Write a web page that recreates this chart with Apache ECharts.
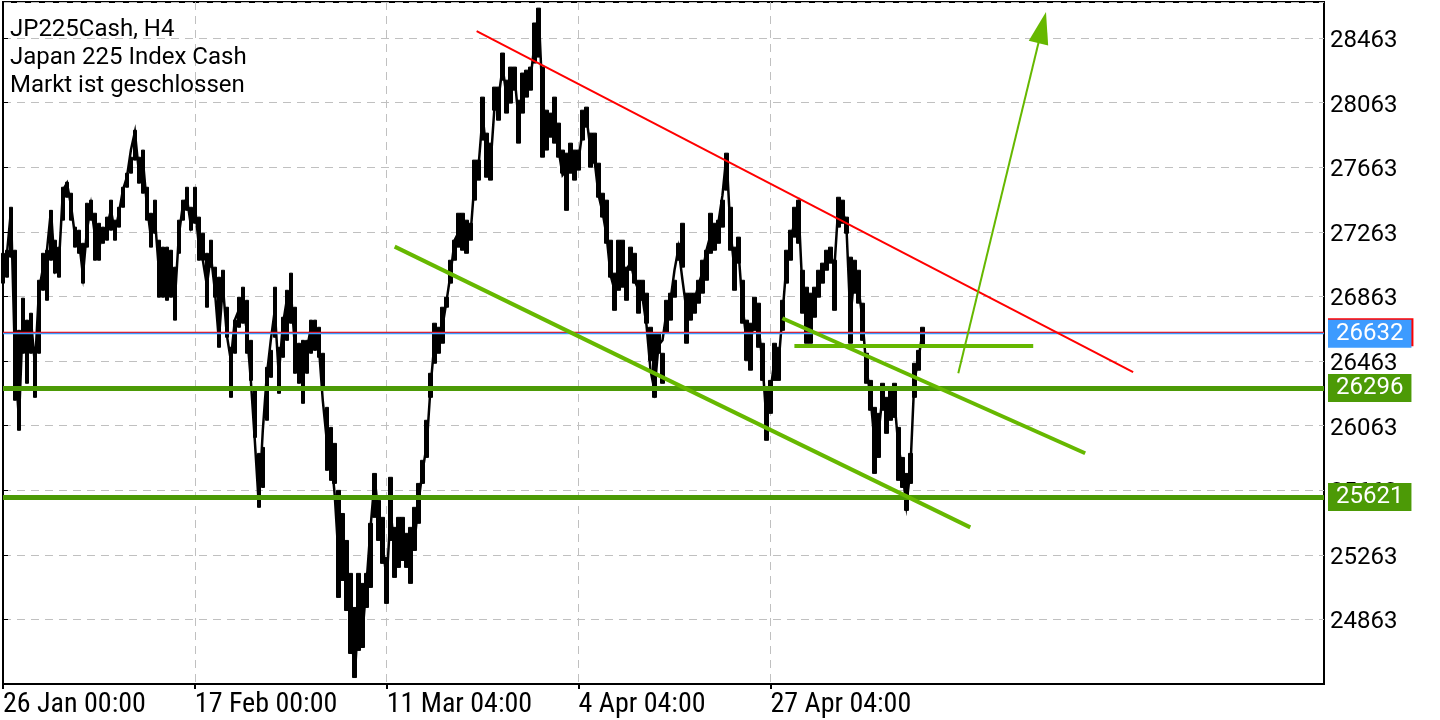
<!DOCTYPE html>
<html><head><meta charset="utf-8">
<script src="https://cdn.jsdelivr.net/npm/echarts@6/dist/echarts.min.js"></script>
<style>html,body{margin:0;padding:0;background:#fff}#c{width:1440px;height:720px}</style>
</head><body><div id="c"></div>
<script>
// ---- data ----
const titleLines = ['JP225Cash, H4', 'Japan 225 Index Cash', 'Markt ist geschlossen'];
const barStep = 2; // H4 bars between consecutive samples
const closes = [
  27026, 27131, 27397, 26468, 26096, 26747, 26468, 26716, 26437, 26902,
  27038, 27149, 27397, 27026, 27075, 27521, 27565, 27428, 27242, 27211,
  26995, 27273, 27428, 27242, 27162, 27255, 27292, 27397, 27261, 27379,
  27521, 27602, 27769, 27881, 27633, 27707, 27428, 27230, 27348, 27026,
  26933, 27057, 26995, 26840, 27242, 27428, 27472, 27304, 27428, 27180,
  27087, 26933, 27118, 26902, 26592, 26933, 26623, 26468, 26716, 26778,
  26809, 26654, 26344, 25972, 25570, 26034, 26375, 26592, 26778, 26375,
  26685, 26840, 26902, 26561, 26406, 26375, 26530, 26666, 26623, 26561,
  26220, 25972, 25910, 25631, 25229, 25353, 25136, 24857, 24510, 24919,
  24795, 25105, 25446, 25737, 25495, 25322, 25105, 25538, 25260, 25353,
  25384, 25229, 25291, 25353, 25600, 25786, 25941, 26313, 26592, 26623,
  26685, 26840, 27007, 27211, 27261, 27273, 27292, 27255, 27583, 27676,
  27986, 27738, 27689, 28048, 28097, 28283, 28097, 28128, 28221, 27955,
  28122, 28184, 28215, 28432, 28630, 28079, 27893, 27955, 27893, 27769,
  27614, 27645, 27707, 27719, 27707, 27893, 27967, 27769, 27707, 27490,
  27385, 27242, 26995, 26902, 27038, 26976, 27026, 27075, 26964, 26902,
  26852, 26685, 26406, 26282, 26561, 26592, 26765, 26840, 27026, 27162,
  26964, 26778, 26821, 26840, 26933, 27013, 27149, 27242, 27273, 27323,
  27490, 27738, 27273, 27026, 27149, 26809, 26592, 26561, 26747, 26685,
  26455, 26096, 26270, 26468, 26437, 26747, 27057, 27180, 27335, 27428,
  26902, 26778, 26778, 26840, 26945, 27007, 27087, 27131, 27038, 27428,
  27397, 27304, 26728, 26995, 26920, 26728, 26418, 26251, 25972, 26003,
  26239, 26127, 26201, 26220, 25941, 25786, 25569, 25786, 26344, 26468,
  26632
];
const highs = [
  27130, 27149, 27415, 27149, 26653, 26852, 26716, 26759, 26548, 26963,
  27130, 27149, 27396, 27211, 27168, 27539, 27570, 27502, 27292, 27273,
  27192, 27440, 27459, 27378, 27316, 27292, 27354, 27459, 27335, 27415,
  27539, 27626, 27725, 27892, 27725, 27769, 27539, 27378, 27459, 27211,
  27168, 27168, 27149, 27044, 27335, 27459, 27539, 27415, 27539, 27354,
  27254, 27130, 27211, 27044, 26982, 27025, 26796, 26548, 26716, 26858,
  26920, 26839, 26591, 26282, 25891, 25928, 26424, 26529, 26920, 26548,
  26734, 26901, 27007, 26796, 26573, 26591, 26591, 26716, 26716, 26672,
  26511, 26176, 26052, 25953, 25662, 25519, 25352, 25148, 24937, 25148,
  25086, 25148, 25458, 25767, 25600, 25495, 25247, 25743, 25433, 25495,
  25495, 25396, 25433, 25557, 25705, 25848, 26096, 26387, 26697, 26672,
  26796, 26858, 27087, 27211, 27378, 27378, 27335, 27316, 27707, 27707,
  28097, 27874, 27812, 28159, 28159, 28370, 28202, 28283, 28283, 28078,
  28246, 28264, 28283, 28556, 28648, 28283, 28016, 27998, 28097, 27936,
  27769, 27750, 27812, 27769, 27769, 28016, 28035, 27874, 27874, 27688,
  27502, 27459, 27211, 27007, 27211, 27211, 27044, 27168, 27130, 26963,
  26963, 26883, 26672, 26635, 26635, 26511, 26839, 26883, 26963, 27192,
  27316, 26883, 26883, 26883, 26963, 27087, 27149, 27378, 27316, 27335,
  27459, 27750, 27415, 27168, 27230, 26963, 26716, 26697, 26858, 26821,
  26573, 26300, 26343, 26573, 26548, 26839, 27149, 27273, 27415, 27459,
  27025, 26920, 26883, 26920, 27025, 27069, 27149, 27168, 27087, 27477,
  27459, 27354, 27106, 27087, 27025, 26821, 26511, 26343, 26176, 26139,
  26325, 26238, 26300, 26325, 26052, 25866, 25767, 25891, 26449, 26529,
  26672
];
const lows = [
  26945, 26982, 27106, 26220, 26034, 26511, 26325, 26511, 26238, 26511,
  26901, 26839, 27087, 27007, 26982, 27335, 27477, 27335, 27168, 27130,
  26945, 27168, 27335, 27087, 27087, 27192, 27211, 27273, 27211, 27292,
  27415, 27539, 27626, 27707, 27564, 27502, 27335, 27168, 27254, 26858,
  26858, 26839, 26858, 26716, 27130, 27335, 27396, 27273, 27316, 27087,
  27087, 26796, 27044, 26858, 26548, 26839, 26610, 26238, 26511, 26672,
  26697, 26511, 26343, 25990, 25557, 25680, 26096, 26362, 26610, 26263,
  26486, 26591, 26697, 26387, 26325, 26201, 26387, 26511, 26529, 26486,
  26282, 25786, 25724, 25705, 24999, 25104, 24918, 24652, 24503, 24671,
  24689, 24937, 25061, 25495, 25352, 25210, 24962, 25352, 25123, 25185,
  25228, 25185, 25086, 25290, 25458, 25705, 25866, 26238, 26449, 26511,
  26573, 26796, 26945, 27087, 27168, 27149, 27130, 27211, 27459, 27583,
  27831, 27601, 27583, 28016, 27954, 28202, 27998, 28060, 28140, 27812,
  27998, 28097, 28140, 28308, 28345, 27725, 27769, 27849, 27812, 27725,
  27626, 27396, 27626, 27583, 27645, 27831, 27911, 27663, 27688, 27477,
  27354, 27192, 26982, 26777, 26901, 26920, 26839, 27025, 26945, 26759,
  26839, 26697, 26467, 26238, 26511, 26325, 26635, 26716, 26858, 27087,
  27044, 26573, 26716, 26759, 26821, 26883, 26963, 27130, 27149, 27192,
  27292, 27521, 27149, 26901, 27069, 26697, 26467, 26406, 26653, 26548,
  26343, 25972, 26139, 26343, 26343, 26653, 26945, 27087, 27230, 27192,
  26759, 26573, 26573, 26734, 26858, 26945, 27025, 27069, 26777, 27292,
  27316, 27254, 26573, 26883, 26821, 26591, 26325, 26158, 25767, 25866,
  26158, 26015, 26096, 26114, 25724, 25680, 25538, 25705, 26238, 26406,
  26548
];
const tickBars = [0, 96, 192, 288, 384];
const tickLabels = ['26 Jan 00:00', '17 Feb 00:00', '11 Mar 04:00', '4 Apr 04:00', '27 Apr 04:00'];
const totalBars = 661;
const priceMin = 24463, priceMax = 28686, priceStep = 400;
const bidPrice = 26632, askPrice = 26641;
const supportLevels = [26296, 25621];
const redTrend = [[237, 28506], [565.5, 26394]];
const channelLow = [[196, 27171], [484, 25433]];
const channelHigh = [[390, 26728], [541.5, 25892]];
const shortLevel = [[396, 26555], [515.5, 26555]];
const arrowUp = [[478, 26387], [520, 28528]];

// ---- chart ----
const FONT = 'Roboto';
const dashed = {color: '#c0c0c0', width: 1, type: [8, 6]};
const lineData = closes.map((v, i) => [i * barStep, v]);
const rangeData = closes.map((v, i) => [i * barStep, lows[i], highs[i], lows[i], highs[i]]);

function seg(pts, color, width, arrow) {
  return [
    {coord: pts[0], symbol: 'none'},
    {coord: pts[1], symbol: arrow ? 'triangle' : 'none', symbolSize: arrow ? [20, 32] : 0,
     lineStyle: {color: color, width: width, type: 'solid'}}
  ];
}
function levelLabel(bg, txt) {
  return {show: true, position: 'end', distance: 4, formatter: txt, color: '#fff',
          backgroundColor: bg, padding: [2, 8, 2, 8], fontSize: 24, lineHeight: 24, fontFamily: FONT};
}

const chart = echarts.init(document.getElementById('c'), null, {renderer: 'canvas'});
chart.setOption({
  animation: false,
  backgroundColor: '#fff',
  title: {
    text: titleLines.join('\n'), left: 10, top: 16, padding: 0,
    textStyle: {fontFamily: FONT, fontSize: 24, lineHeight: 28, fontWeight: 'normal', color: '#000'}
  },
  grid: {left: 2, right: 116, top: 2, bottom: 36, show: true, borderColor: '#000', borderWidth: 2, backgroundColor: 'transparent'},
  xAxis: {
    type: 'value', min: 0, max: totalBars, interval: 32,
    axisLine: {show: true, onZero: false, lineStyle: {color: '#000', width: 2}},
    axisTick: {show: true, length: 5, customValues: tickBars, lineStyle: {color: '#000', width: 2}},
    axisLabel: {
      customValues: tickBars, align: 'left', margin: 7,
      formatter: v => { const i = tickBars.indexOf(v); return i >= 0 ? tickLabels[i] : ''; },
      fontFamily: 'Liberation Sans Narrow, Roboto Condensed, Roboto', fontSize: 28, color: '#000'
    },
    splitLine: {show: true, lineStyle: dashed}
  },
  yAxis: {
    type: 'value', position: 'right', min: priceMin, max: priceMax, interval: priceStep, scale: true,
    axisLine: {show: true, lineStyle: {color: '#000', width: 2}},
    axisTick: {show: true, length: 5, lineStyle: {color: '#000', width: 1}},
    axisLabel: {showMinLabel: false, showMaxLabel: false, margin: 6, color: '#000',
                formatter: v => '{p|' + v + '}',
                rich: {p: {fontFamily: FONT, fontSize: 24, color: '#000', padding: [6, 0, 0, 0]}}},
    splitLine: {show: true, lineStyle: dashed}
  },
  series: [{
    type: 'candlestick', data: rangeData, silent: true, barWidth: 4,
    encode: {x: 0, y: [1, 2, 3, 4]},
    itemStyle: {color: '#000', color0: '#000', borderColor: '#000', borderColor0: '#000', borderWidth: 1}
  }, {
    type: 'line', data: lineData, symbol: 'none', silent: true,
    lineStyle: {color: '#000', width: 2.5, join: 'miter'},
    markLine: {
      silent: true, symbol: ['none', 'none'], animation: false,
      label: {show: false},
      data: [
        {yAxis: supportLevels[0], lineStyle: {color: '#4c9a06', width: 5, type: 'solid'},
         label: levelLabel('#4c9a06', String(supportLevels[0]))},
        {yAxis: supportLevels[1], lineStyle: {color: '#4c9a06', width: 5, type: 'solid'},
         label: levelLabel('#4c9a06', String(supportLevels[1]))},
        {yAxis: askPrice, lineStyle: {color: '#ff0000', width: 1.3, type: 'solid'},
         label: Object.assign(levelLabel('#ff0000', String(bidPrice)), {padding: [2, 10, 2, 8], color: '#ff0000'})},
        {yAxis: bidPrice, lineStyle: {color: '#3d9bff', width: 1.3, type: 'solid'},
         label: levelLabel('#3d9bff', String(bidPrice))},
        seg(redTrend, '#ff0000', 2),
        seg(channelLow, '#66b800', 4),
        seg(channelHigh, '#66b800', 4),
        seg(shortLevel, '#66b800', 4),
        seg(arrowUp, '#66b800', 2, true)
      ]
    }
  }]
});
</script>
</body></html>
